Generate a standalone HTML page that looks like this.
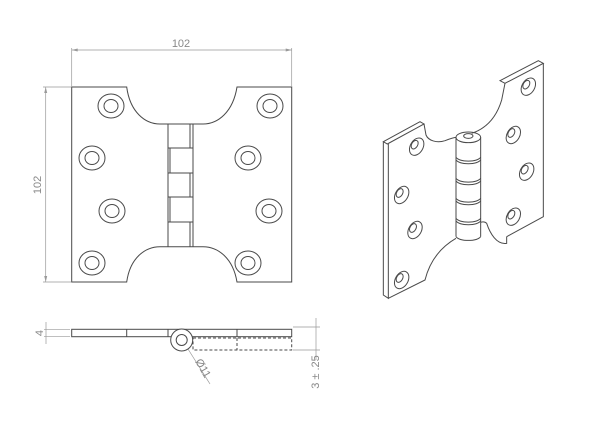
<!DOCTYPE html>
<html><head><style>
html,body{margin:0;padding:0;background:#fff;width:600px;height:425px;overflow:hidden}
text{font-family:"Liberation Sans",sans-serif;fill:#888;font-size:11px}
</style></head><body>
<svg width="600" height="425" viewBox="0 0 600 425" xmlns="http://www.w3.org/2000/svg">
<g fill="none" stroke="#4a4a4a" stroke-width="1">
<path d="M71.7,87 H126.7 C130,112 145,124 160,124 H203 C218,124 233,112 237,87 H291.7 V282 H237 C233,258 218,246.7 203,246.7 H160 C145,246.7 130,258 126.7,282 H71.7 Z"/>
<path d="M168,124 V246.7 M193,124 V246.7"/>
<path d="M168,124 H190 V148 H168 M170,148 H193 V173 H170 V148 M168,173 H190 V197 H168 M170,197 H193 V222 H170 V197 M168,222 H190 V246.7"/>
<g>
<ellipse cx="111" cy="106" rx="13" ry="12"/><ellipse cx="111" cy="106" rx="7" ry="6.5"/>
<ellipse cx="270" cy="106" rx="13" ry="12"/><ellipse cx="270" cy="106" rx="7" ry="6.5"/>
<ellipse cx="92" cy="158" rx="13" ry="12"/><ellipse cx="92" cy="158" rx="7" ry="6.5"/>
<ellipse cx="248" cy="158" rx="13" ry="12"/><ellipse cx="248" cy="158" rx="7" ry="6.5"/>
<ellipse cx="112" cy="211" rx="13" ry="12"/><ellipse cx="112" cy="211" rx="7" ry="6.5"/>
<ellipse cx="269" cy="211" rx="13" ry="12"/><ellipse cx="269" cy="211" rx="7" ry="6.5"/>
<ellipse cx="92" cy="263" rx="13" ry="12"/><ellipse cx="92" cy="263" rx="7" ry="6.5"/>
<ellipse cx="248" cy="263" rx="13" ry="12"/><ellipse cx="248" cy="263" rx="7" ry="6.5"/>
</g>
</g>
<g stroke="#999" stroke-width="0.7" fill="none">
<path d="M71.7,48 V87 M291.7,48 V87 M71.7,50 H291.7"/>
<path d="M43,87 H71 M43,282 H71 M45.7,87 V282"/>
<path d="M44,329.3 H70 M44,336.7 H70 M46,322 V344"/>
<path d="M293,327 H320 M293,350 H320 M316,318 V360"/>
<path d="M188,349 L210,384"/>
</g>
<g fill="#999">
<path d="M71.7,50 l6,-1.5 v3z M291.7,50 l-6,-1.5 v3z M45.7,87 l-1.5,6 h3z M45.7,282 l-1.5,-6 h3z"/>
</g>
<text x="181" y="47" text-anchor="middle">102</text>
<text transform="translate(41,185) rotate(-90)" text-anchor="middle">102</text>
<text transform="translate(43,333) rotate(-90)" text-anchor="middle">4</text>
<text transform="translate(319,372) rotate(-90)" text-anchor="middle">3 ± .25</text>
<text transform="translate(200,370) rotate(60)" text-anchor="middle">Ø11</text>
<g fill="none" stroke="#4a4a4a" stroke-width="1">
<rect x="71.7" y="329.3" width="220" height="7.4"/>
<path d="M126.7,329.3 V336.7 M168,329.3 V336.7 M237,329.3 V336.7"/>
<circle cx="181.7" cy="340" r="11" fill="#fff"/>
<circle cx="181.7" cy="340" r="5.5"/>
<path d="M193,338 H291.7 V350 H193 Z M237,338 V350" stroke-dasharray="3,2"/>
</g>
<g transform="translate(370,50) scale(0.33333)" fill="none" stroke="#4a4a4a" stroke-width="3">
<path d="M40,275 L150,215 L162,222 L52,282 Z"/>
<path d="M40,275 V735 L55,745 V282"/>
<path d="M162,222 L168,255 C175,272 200,280 225,272 C240,266 250,262 258,262"/>
<path d="M55,745 L165,690 C180,630 215,590 258,565"/>
<path d="M390,92 L505,32 L520,40 L405,100 Z"/>
<path d="M520,40 V500 L410,560"/>
<path d="M405,100 L395,150 C380,200 350,235 305,250"/>
<path d="M410,560 L410,580 C380,585 360,550 350,520 C345,515 338,515 332,517"/>
<path d="M258,262 V560 M332,262 V560"/>
<ellipse cx="295" cy="262" rx="37" ry="16"/>
<ellipse cx="295" cy="258" rx="14" ry="7"/>
<path d="M258,560 C270,575 320,575 332,560"/>
<path d="M258,322 C270,337 320,337 332,322 M258,330 C270,345 320,345 332,330"/>
<path d="M258,385 C270,400 320,400 332,385 M258,393 C270,408 320,408 332,393"/>
<path d="M258,445 C270,460 320,460 332,445 M258,453 C270,468 320,468 332,453"/>
<path d="M258,505 C270,520 320,520 332,505 M258,513 C270,528 320,528 332,513"/>
<g>
<ellipse cx="140" cy="290" rx="19" ry="28" transform="rotate(30 140 290)"/><ellipse cx="134" cy="284" rx="9" ry="14" transform="rotate(30 134 284)"/>
<ellipse cx="95" cy="435" rx="19" ry="28" transform="rotate(30 95 435)"/><ellipse cx="89" cy="429" rx="9" ry="14" transform="rotate(30 89 429)"/>
<ellipse cx="135" cy="540" rx="19" ry="28" transform="rotate(30 135 540)"/><ellipse cx="129" cy="534" rx="9" ry="14" transform="rotate(30 129 534)"/>
<ellipse cx="95" cy="690" rx="19" ry="28" transform="rotate(30 95 690)"/><ellipse cx="89" cy="684" rx="9" ry="14" transform="rotate(30 89 684)"/>
<ellipse cx="475" cy="110" rx="19" ry="28" transform="rotate(30 475 110)"/><ellipse cx="469" cy="104" rx="9" ry="14" transform="rotate(30 469 104)"/>
<ellipse cx="430" cy="255" rx="19" ry="28" transform="rotate(30 430 255)"/><ellipse cx="424" cy="249" rx="9" ry="14" transform="rotate(30 424 249)"/>
<ellipse cx="470" cy="365" rx="19" ry="28" transform="rotate(30 470 365)"/><ellipse cx="464" cy="359" rx="9" ry="14" transform="rotate(30 464 359)"/>
<ellipse cx="430" cy="500" rx="19" ry="28" transform="rotate(30 430 500)"/><ellipse cx="424" cy="494" rx="9" ry="14" transform="rotate(30 424 494)"/>
</g>
</g>
</svg>
</body></html>
